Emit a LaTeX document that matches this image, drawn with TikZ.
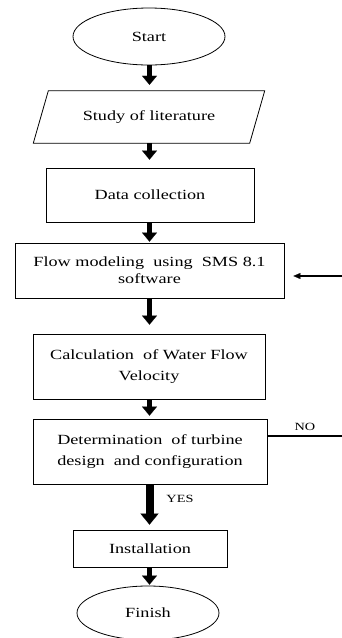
\documentclass[tikz,border=0pt]{standalone}
\usepackage{fontspec}
\setmainfont{Liberation Serif}[FakeStretch=1.3]
\usetikzlibrary{arrows.meta,shapes.geometric}
\begin{document}
\begin{tikzpicture}[x=1pt,y=-1pt,
  box/.style={draw=black, line width=0.8pt, rectangle, inner sep=0pt, align=center,
    font=\fontsize{14}{17}\selectfont},
  term/.style={draw=black, line width=0.8pt, ellipse, inner sep=0pt,
    font=\fontsize{14}{17}\selectfont},
  flowarrow/.style={line width=5.5pt, -{Triangle[width=15pt,length=9pt,line width=0.1pt]}},
  bigarrow/.style={line width=8pt, -{Triangle[width=18pt,length=11pt,line width=0.1pt]}},
  thinarrow/.style={line width=1.2pt, -{Triangle[width=6pt,length=7pt,line width=0.1pt]}},
  thinline/.style={line width=1.2pt},
  lbl/.style={font=\fontsize{11}{13}\selectfont, inner sep=0pt}
]
\useasboundingbox (0,0) rectangle (342,638);
\clip (0,0) rectangle (342,638);

% nodes
\node[term, minimum width=152pt, minimum height=57pt] (start) at (149,36.5) {Start};
\node[inner sep=0pt, minimum width=216pt, minimum height=52pt,
  font=\fontsize{14}{17}\selectfont] (lit) at (149,117) {Study of literature};
\draw[line width=0.8pt] ([xshift=7.5pt]lit.north west) -- ([xshift=7.5pt]lit.north east)
  -- ([xshift=-7.5pt]lit.south east) -- ([xshift=-7.5pt]lit.south west) -- cycle;
\node[box, minimum width=208pt, minimum height=54pt] (data) at (150,195) {Data collection};
\node[box, minimum width=269pt, minimum height=55pt] (flow) at (149.5,270.5)
  {Flow modeling \ using \ SMS 8.1\\software};
\node[box, minimum width=232pt, minimum height=65pt] (calc) at (149,366.5)
  {Calculation \ of Water Flow\\[4pt]Velocity};
\node[box, minimum width=234pt, minimum height=65pt] (det) at (150,451.5)
  {Determination \ of turbine\\[4pt]design \ and configuration};
\node[box, minimum width=154pt, minimum height=37pt] (inst) at (150,548.5) {Installation};
\node[term, minimum width=142pt, minimum height=54pt] (finish) at (148,613) {Finish};

\coordinate (fbin) at (342,276);
\coordinate (noend) at (342,436);
\node[lbl] (yes) at (180,499) {YES};
\node[lbl] (no) at (305,427) {NO};

% connectors
\draw[flowarrow, shorten >=6pt] (start.south -| 149.5,0) -- (lit.north -| 149.5,0);
\draw[flowarrow, shorten >=8pt] (lit.south -| 149.5,0) -- (data.north -| 149.5,0);
\draw[flowarrow, shorten >=1pt] (data.south -| 149.5,0) -- (flow.north -| 149.5,0);
\draw[flowarrow, shorten >=9pt] (flow.south -| 149.5,0) -- (calc.north -| 149.5,0);
\draw[flowarrow, shorten >=3pt] (calc.south -| 149.5,0) -- (det.north -| 149.5,0);
\draw[bigarrow, shorten >=5pt] (det.south -| 149.5,0) -- (inst.north -| 149.5,0);
\draw[flowarrow, shorten >=1pt] (inst.south -| 149.5,0) -- (finish.north -| 149.5,0);
\draw[thinarrow, shorten >=9pt] (fbin) -- (fbin -| flow.east);
\draw[thinline] (det.east |- noend) -- (noend);
\end{tikzpicture}
\end{document}
